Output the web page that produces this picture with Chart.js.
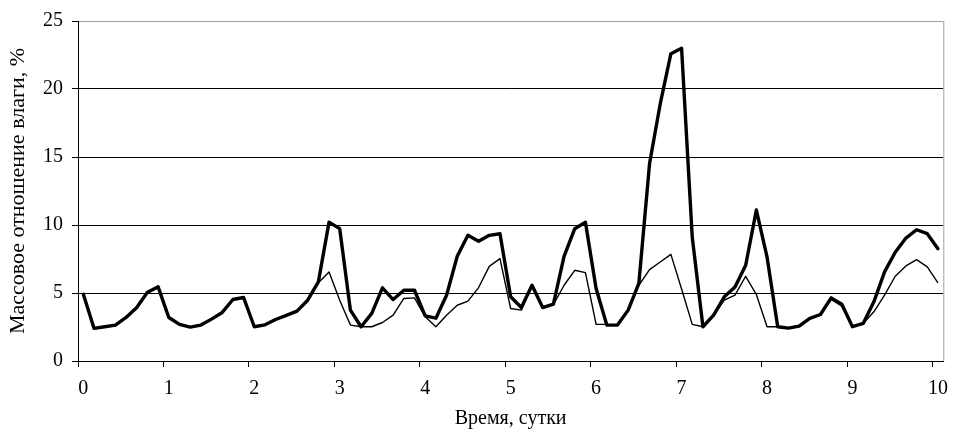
<!DOCTYPE html>
<html>
<head>
<meta charset="utf-8">
<script src="https://cdn.jsdelivr.net/npm/chart.js@4.4.1/dist/chart.umd.min.js"></script>
<style>
  html, body { margin: 0; padding: 0; background: #fff; }
  #wrap { width: 958px; height: 429px; }
</style>
</head>
<body>
<div id="wrap"><canvas id="c" width="958" height="429"></canvas></div>
<script>
// Time of each measurement, days (every 3 hours)
const times = [
  0, 0.125, 0.25, 0.375, 0.5, 0.625, 0.75, 0.875,
  1, 1.125, 1.25, 1.375, 1.5, 1.625, 1.75, 1.875,
  2, 2.125, 2.25, 2.375, 2.5, 2.625, 2.75, 2.875,
  3, 3.125, 3.25, 3.375, 3.5, 3.625, 3.75, 3.875,
  4, 4.125, 4.25, 4.375, 4.5, 4.625, 4.75, 4.875,
  5, 5.125, 5.25, 5.375, 5.5, 5.625, 5.75, 5.875,
  6, 6.125, 6.25, 6.375, 6.5, 6.625, 6.75, 6.875,
  7, 7.125, 7.25, 7.375, 7.5, 7.625, 7.75, 7.875,
  8, 8.125, 8.25, 8.375, 8.5, 8.625, 8.75, 8.875,
  9, 9.125, 9.25, 9.375, 9.5, 9.625, 9.75, 9.875,
  10
];

// Day labels shown under the axis
const dayLabels = ['0', '1', '2', '3', '4', '5', '6', '7', '8', '9', '10'];

// Moisture ratio, %, series drawn with the heavy line
const moistureHeavy = [
  4.9, 2.4, 2.52, 2.64, 3.2, 3.93, 5.06, 5.45,
  3.2, 2.69, 2.49, 2.64, 3.08, 3.57, 4.52, 4.67,
  2.52, 2.66, 3.05, 3.35, 3.67, 4.47, 5.82, 10.21,
  9.73, 3.74, 2.52, 3.5, 5.38, 4.52, 5.2, 5.2,
  3.32, 3.15, 4.84, 7.7, 9.24, 8.8, 9.24, 9.36,
  4.72, 3.93, 5.57, 3.93, 4.18, 7.7, 9.73, 10.2,
  5.33, 2.64, 2.64, 3.74, 5.7, 14.5, 18.9, 22.6,
  23.0, 9.1, 2.52, 3.37, 4.72, 5.45, 7.04, 11.1,
  7.65, 2.52, 2.42, 2.57, 3.13, 3.42, 4.64, 4.18,
  2.52, 2.76, 4.35, 6.55, 8.0, 9.04, 9.65, 9.36,
  8.26
];

// Moisture ratio, %, series drawn with the thin line
const moistureThin = [
  4.9, 2.4, 2.52, 2.64, 3.2, 3.93, 5.06, 5.45,
  3.2, 2.69, 2.49, 2.64, 3.08, 3.57, 4.52, 4.67,
  2.52, 2.66, 3.05, 3.35, 3.67, 4.47, 5.75, 6.55,
  4.47, 2.64, 2.52, 2.52, 2.83, 3.37, 4.6, 4.64,
  3.25, 2.52, 3.37, 4.1, 4.4, 5.4, 6.96, 7.53,
  3.86, 3.74, 5.57, 3.93, 4.15, 5.57, 6.67, 6.5,
  2.69, 2.69, 2.64, 3.74, 5.57, 6.72, 7.28, 7.84,
  5.3, 2.69, 2.52, 3.37, 4.47, 4.84, 6.23, 4.89,
  2.52, 2.52, 2.42, 2.57, 3.13, 3.42, 4.52, 4.03,
  2.52, 2.76, 3.62, 4.84, 6.23, 6.99, 7.45, 6.92,
  5.74
];

const yTicks = [0, 5, 10, 15, 20, 25];

const FONT = 'Liberation Serif, Times New Roman, serif';
const FONT_SIZE = 20;
const POINTS_PER_DAY = 8;

// Thin grey frame on the right edge of the plot area
const framePlugin = {
  id: 'frame',
  afterDraw(chart) {
    const { ctx, chartArea: a } = chart;
    ctx.save();
    ctx.strokeStyle = '#a0a0a0';
    ctx.lineWidth = 1;
    ctx.beginPath();
    ctx.moveTo(a.right + 0.5, a.top);
    ctx.lineTo(a.right + 0.5, a.bottom);
    ctx.stroke();
    ctx.restore();
  }
};

new Chart(document.getElementById('c'), {
  type: 'line',
  data: {
    labels: times,
    datasets: [
      {
        label: 'Ряд 1',
        data: moistureHeavy,
        borderColor: '#000',
        borderWidth: 3.4,
        pointRadius: 0,
        tension: 0,
        borderJoinStyle: 'round',
        borderCapStyle: 'round'
      },
      {
        label: 'Ряд 2',
        data: moistureThin,
        borderColor: '#000',
        borderWidth: 1.4,
        pointRadius: 0,
        tension: 0,
        borderJoinStyle: 'round'
      }
    ]
  },
  options: {
    responsive: false,
    animation: false,
    devicePixelRatio: 1,
    layout: { padding: { left: 0, right: 6, top: 20, bottom: 0 } },
    plugins: {
      legend: { display: false },
      tooltip: { enabled: false }
    },
    scales: {
      x: {
        type: 'category',
        offset: true,
        afterFit(scale) { scale.height = 68; },
        grid: {
          offset: true,
          drawOnChartArea: false,
          drawTicks: true,
          tickLength: 6,
          color: (c) => (c.index !== undefined && c.index % POINTS_PER_DAY === 0) ? '#000' : 'rgba(0,0,0,0)',
          lineWidth: 1
        },
        border: { color: '#000', width: 1 },
        ticks: {
          autoSkip: false,
          maxRotation: 0,
          minRotation: 0,
          padding: 10,
          color: '#000',
          font: { family: FONT, size: FONT_SIZE },
          callback: (v, i) => (i % POINTS_PER_DAY === 0) ? dayLabels[i / POINTS_PER_DAY] : ''
        },
        title: {
          display: true,
          text: 'Время, сутки',
          color: '#000',
          font: { family: FONT, size: FONT_SIZE, lineHeight: 1 },
          padding: { top: 0, bottom: 0 }
        }
      },
      y: {
        min: 0,
        max: 25,
        afterFit(scale) { scale.width = 78; },
        afterBuildTicks(scale) { scale.ticks = yTicks.map(v => ({ value: v })); },
        grid: {
          color: (c) => (c.tick && c.tick.value === 25) ? '#a0a0a0' : '#000',
          tickColor: '#000',
          tickLength: 6,
          lineWidth: 1
        },
        border: { color: '#000', width: 1 },
        ticks: {
          padding: 9,
          color: '#000',
          font: { family: FONT, size: FONT_SIZE }
        },
        title: {
          display: true,
          text: 'Массовое отношение влаги, %',
          color: '#000',
          font: { family: FONT, size: 22, lineHeight: 1 },
          padding: { top: 7, bottom: 0 }
        }
      }
    }
  },
  plugins: [framePlugin]
});
</script>
</body>
</html>
